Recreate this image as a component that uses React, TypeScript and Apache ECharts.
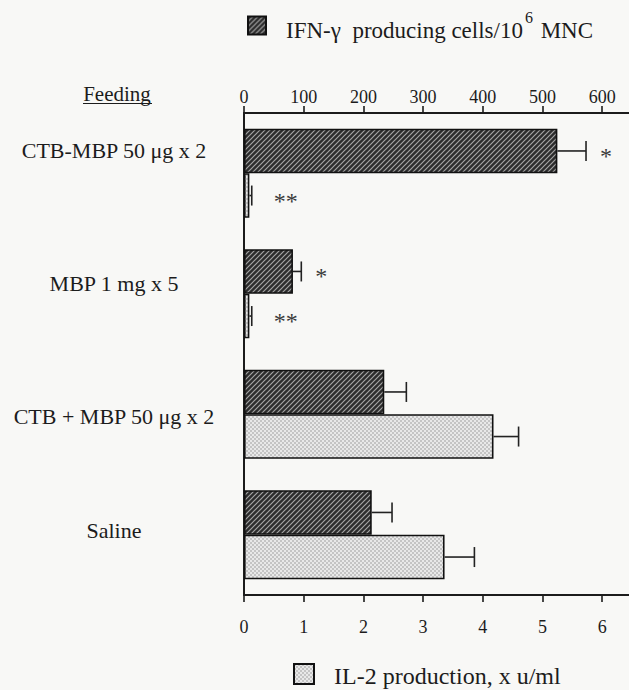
import React, { useEffect, useRef } from "react";
import * as echarts from "echarts";

const categories = ["CTB-MBP 50 μg x 2", "MBP 1 mg x 5", "CTB + MBP 50 μg x 2", "Saline"];
const ifnName = "IFN-γ producing cells/10⁶ MNC";
const il2Name = "IL-2 production, x u/ml";
const ifnValues = [525, 82, 235, 214];
const ifnErrors = [48, 14, 37, 34];
const il2Values = [0.09, 0.09, 4.18, 3.36];
const il2Errors = [0.04, 0.04, 0.42, 0.5];
const ifnMarks = ["*", "*", "", ""];
const il2Marks = ["**", "**", "", ""];
const ifnAxis = { min: 0, max: 645, interval: 100 };
const il2Axis = { min: 0, max: 6.45, interval: 1 };

const FONT = "Liberation Serif";
const INK = "#1c1c1c";
const BG = "#f8f8f6";

function makeHatch() {
  const c = document.createElement("canvas");
  c.width = 5;
  c.height = 5;
  const g = c.getContext("2d")!;
  g.fillStyle = "#2c2c2c";
  g.fillRect(0, 0, 5, 5);
  g.strokeStyle = "#a4a4a4";
  g.lineWidth = 1.2;
  g.beginPath();
  g.moveTo(0, 5);
  g.lineTo(5, 0);
  g.moveTo(-1, 1);
  g.lineTo(1, -1);
  g.moveTo(4, 6);
  g.lineTo(6, 4);
  g.stroke();
  return c;
}

function makeDots() {
  const c = document.createElement("canvas");
  c.width = 4;
  c.height = 4;
  const g = c.getContext("2d")!;
  g.fillStyle = "#e8e8e8";
  g.fillRect(0, 0, 4, 4);
  g.fillStyle = "#c4c4c4";
  g.fillRect(0, 0, 2, 2);
  g.fillRect(2, 2, 2, 2);
  return c;
}

function errorRenderer(marks: string[], sign: number) {
  return (params: any, api: any) => {
    const v = api.value(0);
    const e = api.value(1);
    const cat = api.value(2);
    const s = api.coord([v, cat]);
    const t = api.coord([v + e, cat]);
    const band = api.size([0, 1])[1];
    const y = s[1] + (sign * band * 0.37) / 2;
    const cap = 10;
    const st = { stroke: "#222", lineWidth: 1.6 };
    const mark = marks[params.dataIndex];
    return {
      type: "group",
      children: [
        { type: "line", shape: { x1: s[0], y1: y, x2: t[0], y2: y }, style: st },
        { type: "line", shape: { x1: t[0], y1: y - cap, x2: t[0], y2: y + cap }, style: st },
        {
          type: "text",
          x: t[0] + (mark.length > 1 ? 22 : 14),
          y: y + 5,
          style: {
            text: mark,
            fontSize: 24,
            fontFamily: FONT,
            fill: "#3a3a3a",
            align: "left",
            verticalAlign: "middle",
          },
        },
      ],
    };
  };
}

export default function App() {
  const ref = useRef<HTMLDivElement>(null);
  useEffect(() => {
    document.body.style.margin = "0";
    document.body.style.background = BG;
    const chart = echarts.init(ref.current!, null, { renderer: "svg" });
    const hatch = { image: makeHatch(), repeat: "repeat" };
    const dots = { image: makeDots(), repeat: "repeat" };
    const labelShift = [
      [0, 0, 46, 0],
      [0, 0, 20, 0],
      [4, 0, 0, 0],
      [0, 0, 9, 0],
    ];
    const rich: any = {};
    labelShift.forEach((p, i) => {
      rich["l" + i] = { fontSize: 22, fontFamily: FONT, color: INK, padding: p };
    });
    const option: any = {
      animation: false,
      backgroundColor: BG,
      textStyle: { fontFamily: FONT },
      grid: { left: 244, right: 0, top: 113, bottom: 95, containLabel: false },
      legend: [
        {
          data: [ifnName],
          left: 247,
          top: 9,
          padding: 0,
          itemWidth: 18,
          itemHeight: 18,
          icon: "rect",
          selectedMode: false,
          formatter: () => "{f|IFN-γ  producing cells/10}{s|6}{t| MNC}",
          textStyle: {
            rich: {
              f: { fontSize: 23, fontFamily: FONT, color: INK, padding: [10, 0, 0, 15], verticalAlign: "bottom" },
              t: { fontSize: 23, fontFamily: FONT, color: INK, padding: [10, 0, 0, 0], verticalAlign: "bottom" },
              s: { fontSize: 16, fontFamily: FONT, color: INK, lineHeight: 16, verticalAlign: "top", padding: [0, 2, 0, 2] },
            },
          },
        },
        {
          data: [il2Name],
          left: 293,
          top: 663,
          padding: 0,
          itemWidth: 20,
          itemHeight: 20,
          icon: "rect",
          selectedMode: false,
          formatter: (n: string) => "{f|" + n + "}",
          textStyle: {
            rich: { f: { fontSize: 24, fontFamily: FONT, color: INK, padding: [4, 0, 0, 15] } },
          },
        },
      ],
      xAxis: [
        {
          type: "value",
          position: "top",
          min: ifnAxis.min,
          max: ifnAxis.max,
          interval: ifnAxis.interval,
          axisLine: { show: true, lineStyle: { color: INK, width: 2 } },
          axisTick: { show: true, length: 7, lineStyle: { color: INK, width: 1.6 } },
          axisLabel: { fontSize: 18, fontFamily: FONT, color: INK, margin: 7, showMaxLabel: false },
          splitLine: { show: false },
        },
        {
          type: "value",
          position: "bottom",
          min: il2Axis.min,
          max: il2Axis.max,
          interval: il2Axis.interval,
          axisLine: { show: true, lineStyle: { color: INK, width: 2 } },
          axisTick: { show: true, length: 7, lineStyle: { color: INK, width: 1.6 } },
          axisLabel: { fontSize: 18, fontFamily: FONT, color: INK, margin: 23, showMaxLabel: false },
          splitLine: { show: false },
        },
      ],
      yAxis: {
        type: "category",
        data: categories,
        inverse: true,
        axisLine: { show: true, lineStyle: { color: INK, width: 2 } },
        axisTick: { show: false },
        axisLabel: {
          align: "center",
          margin: 130,
          formatter: (v: string, i: number) => "{l" + i + "|" + v + "}",
          rich,
        },
      },
      graphic: [
        {
          type: "text",
          x: 117,
          y: 94,
          style: { text: "Feeding", fontSize: 21, fontFamily: FONT, fill: INK, align: "center", verticalAlign: "middle" },
        },
        {
          type: "line",
          shape: { x1: 83, y1: 103.5, x2: 152, y2: 103.5 },
          style: { stroke: INK, lineWidth: 1.2 },
        },
      ],
      series: [
        {
          type: "bar",
          name: ifnName,
          xAxisIndex: 0,
          data: ifnValues,
          barWidth: "37%",
          barGap: "0%",
          itemStyle: { color: hatch, borderColor: "#111", borderWidth: 1.6 },
        },
        {
          type: "bar",
          name: il2Name,
          xAxisIndex: 1,
          data: il2Values,
          barWidth: "37%",
          barGap: "0%",
          itemStyle: { color: dots, borderColor: "#111", borderWidth: 1.6 },
        },
        {
          type: "custom",
          name: "ifnErr",
          xAxisIndex: 0,
          encode: { x: 0, y: 2 },
          itemStyle: { color: "#3a3a3a" },
          data: ifnValues.map((v, i) => [v, ifnErrors[i], i]),
          renderItem: errorRenderer(ifnMarks, -1),
          z: 5,
        },
        {
          type: "custom",
          name: "il2Err",
          xAxisIndex: 1,
          encode: { x: 0, y: 2 },
          itemStyle: { color: "#3a3a3a" },
          data: il2Values.map((v, i) => [v, il2Errors[i], i]),
          renderItem: errorRenderer(il2Marks, 1),
          z: 5,
        },
      ],
    };
    chart.setOption(option);
    return () => chart.dispose();
  }, []);
  return (
    <div
      ref={ref}
      style={{ position: "fixed", left: 0, top: 0, width: 629, height: 690, background: BG }}
    />
  );
}
